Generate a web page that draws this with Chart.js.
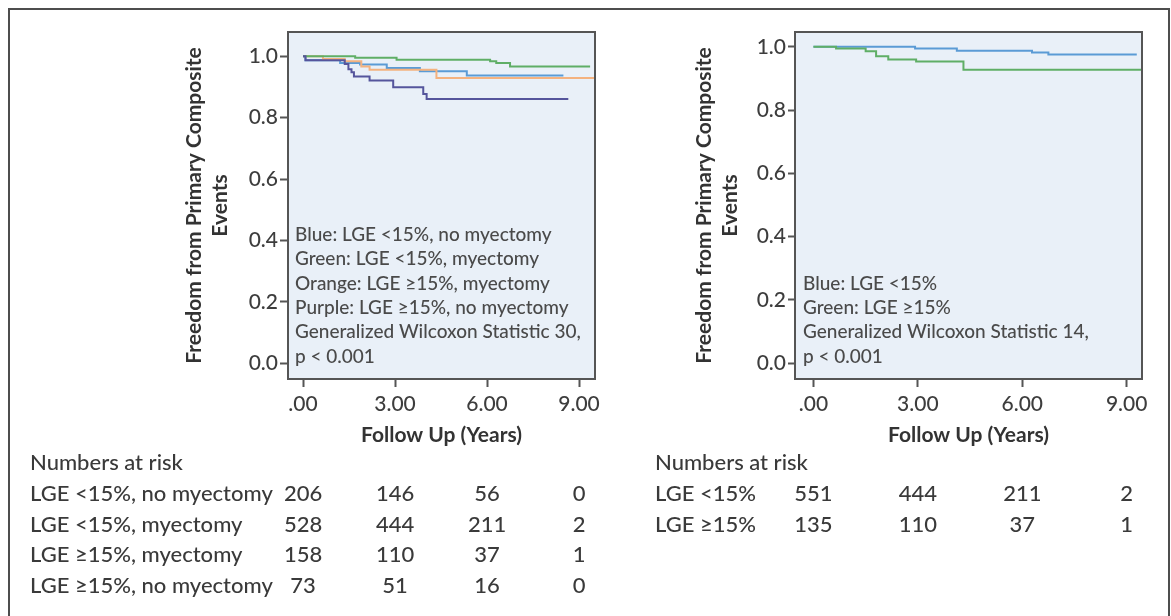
<!DOCTYPE html>
<html lang="en">
<head>
<meta charset="UTF-8">
<title>Freedom from Primary Composite Events</title>
<script src="https://cdn.jsdelivr.net/npm/chart.js@4.4.1/dist/chart.umd.min.js"></script>
<style>
    html, body { margin: 0; padding: 0; background: #fff; }
    body { width: 1171px; height: 616px; position: relative; overflow: hidden; }
    #frame { position: absolute; left: 8px; top: 8px; width: 1162px; height: 700px; box-sizing: border-box; border: 2px solid #4d4d4d; border-bottom: none; }
    #leftChart { position: absolute; left: 0; top: 0; }
    #rightChart { position: absolute; left: 620px; top: 0; }
</style>
</head>
<body>
<div id="frame"></div>
<canvas id="leftChart" width="620" height="616"></canvas>
<canvas id="rightChart" width="551" height="616"></canvas>
<script>
const yTicks = [0, 0.2, 0.4, 0.6, 0.8, 1.0];
const yTickLabels = ['0.0', '0.2', '0.4', '0.6', '0.8', '1.0'];
const xTicks = [0, 3, 6, 9];
const xTickLabels = ['.00', '3.00', '6.00', '9.00'];
const riskTimes = [0, 3, 6, 9];

// left panel: LGE and myectomy groups (years, survival)
const blueLTimes = [0, 0.08, 1.21, 1.86, 2.73, 3.81, 5.34, 8.49];
const blueLValues = [1.0, 0.987, 0.978, 0.973, 0.962, 0.951, 0.937, 0.937];
const greenLTimes = [0, 1.70, 3.05, 6.10, 6.30, 6.75, 9.36];
const greenLValues = [1.0, 0.995, 0.989, 0.984, 0.978, 0.967, 0.967];
const orangeLTimes = [0, 0.65, 1.36, 1.90, 2.17, 4.35, 9.6];
const orangeLValues = [1.0, 0.991, 0.984, 0.967, 0.956, 0.929, 0.929];
const purpleLTimes = [0, 0.08, 1.36, 1.48, 1.58, 1.66, 2.17, 2.94, 3.92, 4.03, 8.65];
const purpleLValues = [1.0, 0.987, 0.975, 0.958, 0.948, 0.934, 0.921, 0.899, 0.877, 0.861, 0.861];

const leftNotes = [
    'Blue: LGE <15%, no myectomy',
    'Green: LGE <15%, myectomy',
    'Orange: LGE \u226515%, myectomy',
    'Purple: LGE \u226515%, no myectomy',
    'Generalized Wilcoxon Statistic 30,',
    'p < 0.001'
];
const leftRiskGroups = ['LGE <15%, no myectomy', 'LGE <15%, myectomy', 'LGE \u226515%, myectomy', 'LGE \u226515%, no myectomy'];
const leftRiskCounts = [
    [206, 146, 56, 0],
    [528, 444, 211, 2],
    [158, 110, 37, 1],
    [73, 51, 16, 0]
];

// right panel: LGE groups only
const blueRTimes = [0, 2.92, 4.12, 6.28, 6.75, 9.29];
const blueRValues = [1.0, 0.995, 0.988, 0.982, 0.976, 0.976];
const greenRTimes = [0, 0.65, 1.5, 1.8, 2.15, 2.95, 4.31, 9.44];
const greenRValues = [1.0, 0.995, 0.986, 0.970, 0.960, 0.954, 0.928, 0.928];

const rightNotes = [
    'Blue: LGE <15%',
    'Green: LGE \u226515%',
    'Generalized Wilcoxon Statistic 14,',
    'p < 0.001'
];
const rightRiskGroups = ['LGE <15%', 'LGE \u226515%'];
const rightRiskCounts = [
    [551, 444, 211, 2],
    [135, 110, 37, 1]
];

const colors = {
    blue: '#5b9bd5',
    green: '#5fae66',
    orange: '#f4b27f',
    purple: '#55559c'
};

Chart.defaults.font.family = 'Lato, "Open Sans", sans-serif';
Chart.defaults.color = '#3d3d3d';

function toPoints(times, values) {
    return times.map((t, i) => ({ x: t, y: values[i] }));
}

function stepDataset(label, times, values, color) {
    return {
        label: label,
        data: toPoints(times, values),
        borderColor: color,
        borderWidth: 2,
        stepped: 'before',
        pointRadius: 0,
        fill: false
    };
}

function panelPlugin(cfg) {
    return {
        id: 'panel',
        beforeDraw(chart) {
            const { ctx, chartArea: a } = chart;
            ctx.save();
            ctx.fillStyle = '#e9f0f8';
            ctx.fillRect(a.left, a.top, a.right - a.left, a.bottom - a.top);
            ctx.restore();
        },
        afterDatasetsDraw(chart) {
            const { ctx, chartArea: a } = chart;
            ctx.save();
            ctx.strokeStyle = '#555';
            ctx.lineWidth = 2;
            ctx.strokeRect(a.left, a.top, a.right - a.left, a.bottom - a.top);

            ctx.font = '500 19px Lato';
            ctx.fillStyle = '#4a4a4a';
            ctx.textAlign = 'left';
            ctx.textBaseline = 'middle';
            cfg.notes.forEach((line, i) => {
                ctx.fillText(line, a.left + cfg.noteIndent, cfg.noteTop + i * 24.3);
            });
            ctx.restore();
        },
        afterDraw(chart) {
            const { ctx } = chart;
            const xScale = chart.scales.x;
            ctx.save();
            ctx.font = '500 22px Lato';
            ctx.fillStyle = '#3a3a3a';
            ctx.textBaseline = 'middle';
            ctx.textAlign = 'left';
            ctx.fillText('Numbers at risk', cfg.tableLeft, 463);
            cfg.groups.forEach((name, i) => {
                const y = 494 + i * 30.6;
                ctx.textAlign = 'left';
                ctx.fillText(name, cfg.tableLeft, y);
                ctx.textAlign = 'center';
                cfg.counts[i].forEach((n, j) => {
                    ctx.fillText(String(n), xScale.getPixelForValue(riskTimes[j]), y);
                });
            });
            ctx.restore();
        }
    };
}

function makeChart(canvasId, datasets, opts) {
    return new Chart(document.getElementById(canvasId), {
        type: 'line',
        data: { datasets: datasets },
        plugins: [panelPlugin(opts.panel)],
        options: {
            responsive: false,
            animation: false,
            layout: { padding: { left: opts.padLeft, right: opts.padRight, top: 32, bottom: 156 } },
            plugins: { legend: { display: false }, tooltip: { enabled: false } },
            scales: {
                x: {
                    type: 'linear',
                    min: opts.xMin,
                    max: opts.xMax,
                    afterFit: (s) => { s.height = 81; },
                    afterBuildTicks: (s) => { s.ticks = xTicks.map(v => ({ value: v })); },
                    ticks: {
                        autoSkip: false,
                        maxRotation: 0,
                        padding: 5,
                        font: { size: 21, weight: 500 },
                        color: '#3d3d3d',
                        callback: (v) => xTickLabels[xTicks.indexOf(v)]
                    },
                    grid: { drawOnChartArea: false, drawTicks: true, tickLength: 8, tickColor: '#555', tickWidth: 2 },
                    border: { display: false },
                    title: {
                        display: true,
                        text: 'Follow Up (Years)',
                        font: { size: 21, weight: 'bold', lineHeight: 1.25 },
                        color: '#333',
                        padding: { top: 0, bottom: 12 }
                    }
                },
                y: {
                    type: 'linear',
                    min: opts.yMin,
                    max: opts.yMax,
                    afterFit: (s) => { s.width = opts.yWidth; },
                    afterBuildTicks: (s) => { s.ticks = yTicks.map(v => ({ value: v })); },
                    ticks: {
                        padding: 2,
                        font: { size: 21, weight: 500 },
                        color: '#3d3d3d',
                        callback: (v) => yTickLabels[yTicks.indexOf(v)]
                    },
                    grid: { drawOnChartArea: false, drawTicks: true, tickLength: opts.yTickLength, tickColor: '#555', tickWidth: 2 },
                    border: { display: false },
                    title: {
                        display: true,
                        text: ['Freedom from Primary Composite', 'Events'],
                        font: { size: 21, weight: 'bold', lineHeight: 1.25 },
                        color: '#333',
                        padding: { top: opts.titlePad, bottom: 0 }
                    }
                }
            }
        }
    });
}

document.addEventListener('DOMContentLoaded', function() {
    makeChart('leftChart', [
        stepDataset('Purple', purpleLTimes, purpleLValues, colors.purple),
        stepDataset('Green', greenLTimes, greenLValues, colors.green),
        stepDataset('Orange', orangeLTimes, orangeLValues, colors.orange),
        stepDataset('Blue', blueLTimes, blueLValues, colors.blue)
    ], {
        padLeft: 170, padRight: 25, yWidth: 118, yTickLength: 8, titlePad: 11,
        xMin: -0.49, xMax: 9.52, yMin: -0.051, yMax: 1.079,
        panel: { notes: leftNotes, noteIndent: 7, noteTop: 235, tableLeft: 30, groups: leftRiskGroups, counts: leftRiskCounts }
    });

    makeChart('rightChart', [
        stepDataset('Green', greenRTimes, greenRValues, colors.green),
        stepDataset('Blue', blueRTimes, blueRValues, colors.blue)
    ], {
        padLeft: 60, padRight: 29, yWidth: 115, yTickLength: 7, titlePad: 11,
        xMin: -0.53, xMax: 9.44, yMin: -0.05, yMax: 1.047,
        panel: { notes: rightNotes, noteIndent: 8, noteTop: 283.5, tableLeft: 35, groups: rightRiskGroups, counts: rightRiskCounts }
    });
});
</script>
</body>
</html>
